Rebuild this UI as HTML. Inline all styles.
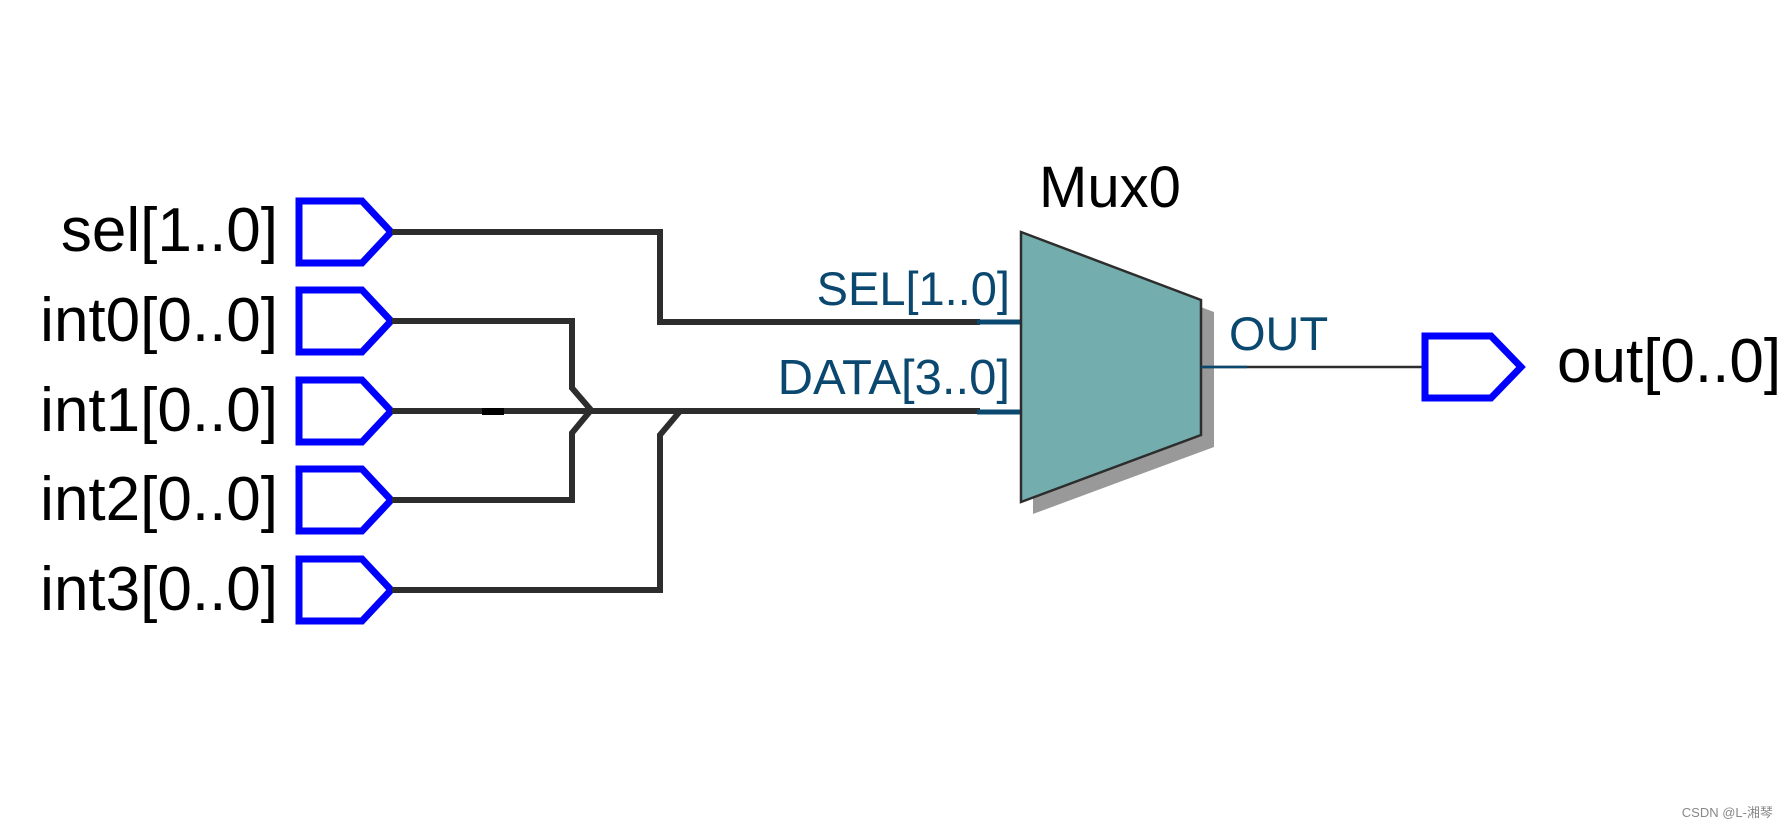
<!DOCTYPE html>
<html><head><meta charset="utf-8"><style>
html,body{margin:0;padding:0;background:#fff;}
svg{display:block;}
</style></head><body>
<svg width="1791" height="829" viewBox="0 0 1791 829" xmlns="http://www.w3.org/2000/svg">
<g font-family="Liberation Sans, sans-serif">
<g font-size="62" fill="#000" text-anchor="end">
<text x="278" y="251">sel[1..0]</text>
<text x="278" y="341">int0[0..0]</text>
<text x="278" y="431">int1[0..0]</text>
<text x="278" y="520">int2[0..0]</text>
<text x="278" y="610">int3[0..0]</text>
</g>
<g fill="none" stroke="#0000ff" stroke-width="7" stroke-linejoin="miter">
<path d="M299 201 H362 L391 232 L362 263 H299 Z"/>
<path d="M299 290 H362 L391 321 L362 352 H299 Z"/>
<path d="M299 380 H362 L391 411 L362 442 H299 Z"/>
<path d="M299 469 H362 L391 500 L362 531 H299 Z"/>
<path d="M299 559 H362 L391 590 L362 621 H299 Z"/>
</g>
<g fill="none" stroke="#2d2d2d" stroke-width="6" stroke-linejoin="miter">
<path d="M392 232 H660 V322 H980"/>
<path d="M392 321 H572 V388 L591 410 L572 433 V500 H392"/>
<path d="M392 411 H980"/>
<path d="M392 590 H660 V435 L681 410"/>
</g>
<rect x="482" y="408" width="22" height="7" fill="#000"/>
<g stroke="#0b4870" stroke-width="5">
<line x1="977" y1="322" x2="1021" y2="322"/>
<line x1="977" y1="412" x2="1021" y2="412"/>
</g>
<path d="M1033 244 L1214 312 L1214 447 L1033 514 Z" fill="#999"/>
<path d="M1021 232 L1201 300 L1201 435 L1021 502 Z" fill="#73adad" stroke="#2d2d2d" stroke-width="2.5"/>
<line x1="1201" y1="367" x2="1424" y2="367" stroke="#2d2d2d" stroke-width="2.5"/>
<line x1="1201" y1="367" x2="1247" y2="367" stroke="#0b4870" stroke-width="2.5"/>
<path d="M1425 336 H1491 L1521 367 L1491 398 H1425 Z" fill="none" stroke="#0000ff" stroke-width="7"/>
<text x="1039" y="207" font-size="58" fill="#000">Mux0</text>
<g fill="#0b4870">
<text x="1010" y="305" text-anchor="end" font-size="47">SEL[1..0]</text>
<text x="1010" y="394" text-anchor="end" font-size="49">DATA[3..0]</text>
<text x="1229" y="350" font-size="47">OUT</text>
</g>
<text x="1557" y="382" font-size="62" fill="#000">out[0..0]</text>
<text x="1773" y="817" font-size="13" fill="#888" text-anchor="end" font-family="Liberation Sans, Noto Sans CJK SC, sans-serif">CSDN @L-湘琴</text>
</g>
</svg>
</body></html>
